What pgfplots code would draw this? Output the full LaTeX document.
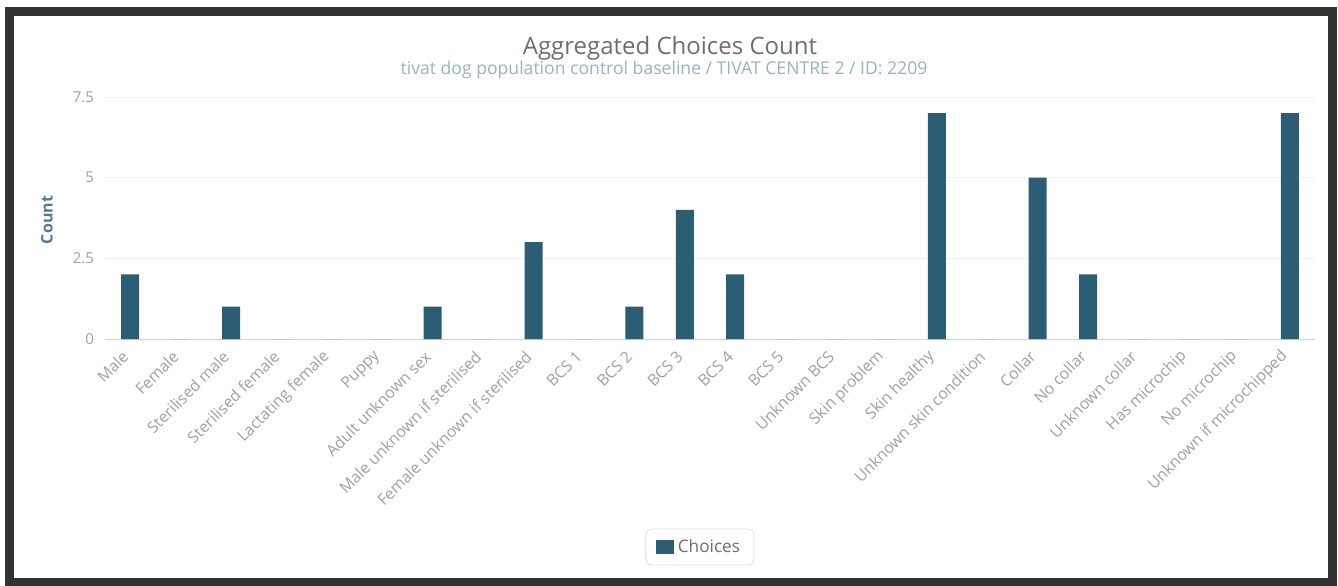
\documentclass[border=0pt]{standalone}
\usepackage{fontspec}
\setmainfont{Open Sans}
\usepackage{pgfplots}
\pgfplotsset{compat=1.18}
\usepackage{pgfplotstable}

\definecolor{barblue}{RGB}{43,94,117}
\definecolor{framegray}{RGB}{50,50,50}
\definecolor{titlegray}{RGB}{110,110,110}
\definecolor{subblue}{RGB}{150,178,198}
\definecolor{labelgray}{RGB}{160,160,160}
\definecolor{axtitle}{RGB}{85,120,150}
\definecolor{axline}{RGB}{200,212,224}

% category index, name, count
\pgfplotstableread[col sep=comma]{
idx,label,count
0,Male,2
1,Female,0
2,Sterilised male,1
3,Sterilised female,0
4,Lactating female,0
5,Puppy,0
6,Adult unknown sex,1
7,Male unknown if sterilised,0
8,Female unknown if sterilised,3
9,BCS 1,0
10,BCS 2,1
11,BCS 3,4
12,BCS 4,2
13,BCS 5,0
14,Unknown BCS,0
15,Skin problem,0
16,Skin healthy,7
17,Unknown skin condition,0
18,Collar,5
19,No collar,2
20,Unknown collar,0
21,Has microchip,0
22,No microchip,0
23,Unknown if microchipped,7
}\choices

\begin{document}
\begin{tikzpicture}
\useasboundingbox (0pt,0pt) rectangle (669pt,-292.5pt);
\draw[line width=4.5pt, framegray] (4.5pt,-5.5pt) rectangle (666pt,-291pt);
\node[font=\fontsize{12}{14}\selectfont, text=titlegray] at (335pt,-24pt) {Aggregated Choices Count};
\node[font=\fontsize{8.8}{10}\selectfont, text=subblue] at (332pt,-35pt) {tivat dog population control baseline / TIVAT CENTRE 2 / ID: 2209};
\node[font=\fontsize{8}{9}\bfseries, text=axtitle, rotate=90] at (23.5pt,-110pt) {Count};
\begin{axis}[
    at={(52.5pt,-169.5pt)}, anchor=south west,
    scale only axis, width=605pt, height=121pt,
    ybar, bar width=9pt,
    xmin=-0.5, xmax=23.5, ymin=0, ymax=7.5,
    axis x line*=bottom, axis y line*=left,
    x axis line style={axline, -},
    y axis line style={draw=none},
    xtick={0,...,23},
    xticklabels from table={\choices}{label},
    major tick length=0pt,
    xticklabel style={rotate=45, anchor=east, font=\fontsize{7.9}{9}\selectfont, text=labelgray},
    xticklabel shift=5pt,
    ytick={0,2.5,5,7.5},
    yticklabels={0,2.5,5,7.5},
    yticklabel style={font=\fontsize{7.5}{9}\selectfont, text=labelgray},
    yticklabel shift=2pt,
    ymajorgrids, grid style={gray!10},
    /pgf/number format/assume math mode=true,
    legend style={at={(0.4917,-0.8595)}, anchor=center, draw=gray!25, rounded corners=3pt,
        font=\fontsize{8.6}{10}\selectfont, text=titlegray, inner xsep=5pt, inner ysep=3pt},
    legend image code/.code={\fill[barblue, sharp corners] (0pt,-3.5pt) rectangle (9pt,3.5pt);},
]
\addplot[fill=barblue, draw=none] table[x=idx, y=count] {\choices};
\legend{Choices}
\end{axis}
\end{tikzpicture}
\end{document}
